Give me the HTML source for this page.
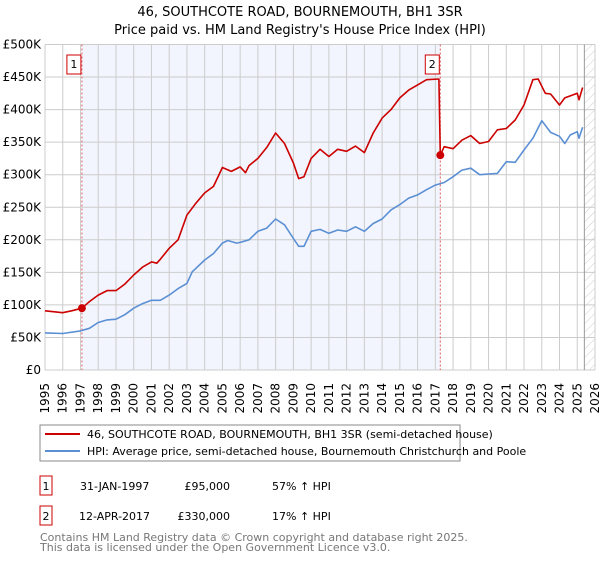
<!DOCTYPE html>
<html><head><meta charset="utf-8"><style>
body{margin:0;background:#fff;font-family:"DejaVu Sans","Liberation Sans",sans-serif;}
svg text{font-family:"DejaVu Sans","Liberation Sans",sans-serif;}
</style></head><body>
<svg id="c" width="600" height="560" xmlns="http://www.w3.org/2000/svg">
<defs><pattern id="hatch" width="6" height="6" patternUnits="userSpaceOnUse" patternTransform="rotate(45)"><line x1="0" y1="0" x2="0" y2="6" stroke="#ccc" stroke-width="1"/></pattern></defs>
<text x="300" y="16" text-anchor="middle" font-size="13">46, SOUTHCOTE ROAD, BOURNEMOUTH, BH1 3SR</text>
<text x="300" y="34" text-anchor="middle" font-size="13">Price paid vs. HM Land Registry's House Price Index (HPI)</text>
<g id="plot"></g>
<rect x="40" y="425" width="420" height="36" fill="#fff" stroke="#888"/>
<line x1="45" y1="434" x2="80" y2="434" stroke="#cc0000" stroke-width="2"/>
<text x="87" y="438" font-size="11">46, SOUTHCOTE ROAD, BOURNEMOUTH, BH1 3SR (semi-detached house)</text>
<line x1="45" y1="451" x2="80" y2="451" stroke="#5b8fd4" stroke-width="2"/>
<text x="87" y="455" font-size="11">HPI: Average price, semi-detached house, Bournemouth Christchurch and Poole</text>
<rect x="40" y="476" width="12" height="19" fill="#fff" stroke="#cc0000"/>
<text x="46" y="490" font-size="11" text-anchor="middle">1</text>
<text x="80" y="490" font-size="11">31-JAN-1997</text>
<text x="230" y="490" font-size="11" text-anchor="end">£95,000</text>
<text x="272" y="490" font-size="11">57% ↑ HPI</text>
<rect x="40" y="506" width="12" height="19" fill="#fff" stroke="#cc0000"/>
<text x="46" y="520" font-size="11" text-anchor="middle">2</text>
<text x="79" y="520" font-size="11">12-APR-2017</text>
<text x="230" y="520" font-size="11" text-anchor="end">£330,000</text>
<text x="272" y="520" font-size="11">17% ↑ HPI</text>
<text x="40" y="541" font-size="11" fill="#777">Contains HM Land Registry data © Crown copyright and database right 2025.</text>
<text x="40" y="551" font-size="11" fill="#777">This data is licensed under the Open Government Licence v3.0.</text>
</svg>
<script>
const yTicks=[0,50,100,150,200,250,300,350,400,450,500];
const yTickLabels=["£0","£50K","£100K","£150K","£200K","£250K","£300K","£350K","£400K","£450K","£500K"];
const xYears=[1995,1996,1997,1998,1999,2000,2001,2002,2003,2004,2005,2006,2007,2008,2009,2010,2011,2012,2013,2014,2015,2016,2017,2018,2019,2020,2021,2022,2023,2024,2025,2026];
const hpiT=[1995,1996,1997,1997.5,1998,1998.5,1999,1999.5,2000,2000.5,2001,2001.5,2002,2002.5,2003,2003.3,2003.5,2004,2004.5,2005,2005.3,2005.8,2006,2006.5,2007,2007.5,2008,2008.5,2009,2009.3,2009.6,2010,2010.5,2011,2011.5,2012,2012.5,2013,2013.5,2014,2014.5,2015,2015.5,2016,2016.5,2017,2017.5,2018,2018.5,2019,2019.5,2020,2020.5,2021,2021.5,2022,2022.5,2023,2023.5,2024,2024.3,2024.6,2025,2025.1,2025.3];
const hpiV=[57,56,60,64,73,77,78,85,95,102,107,107,115,125,133,151,156,169,179,195,199,195,196,200,213,218,232,223,202,190,190,213,216,210,215,213,220,213,225,232,246,254,264,269,277,284,288,297,307,310,300,301,302,320,319,338,356,383,365,359,348,361,366,356,373];
const propT=[1995,1996,1996.5,1997.08,1997.5,1998,1998.5,1999,1999.5,2000,2000.5,2001,2001.3,2001.5,2002,2002.5,2003,2003.5,2004,2004.5,2005,2005.5,2006,2006.3,2006.5,2007,2007.5,2008,2008.5,2009,2009.3,2009.6,2010,2010.5,2011,2011.5,2012,2012.5,2013,2013.5,2014,2014.5,2015,2015.5,2016,2016.5,2017.2,2017.28,2017.5,2018,2018.5,2019,2019.5,2020,2020.5,2021,2021.5,2022,2022.5,2022.8,2023.2,2023.5,2024,2024.3,2025,2025.1,2025.3];
const propV=[91,88,91,95,105,115,122,122,132,146,158,166,164,170,187,200,238,256,272,282,311,305,312,303,314,325,342,364,348,318,294,297,325,339,328,339,336,344,334,364,387,400,418,430,438,446,447,330,343,340,353,360,348,351,369,371,384,407,446,447,425,424,407,418,425,415,434];
const saleT=[1997.08,2017.28];
const saleV=[95,330];
const saleLabels=["1","2"];
const X0=45,X1=595,Y0=370,Y1=44.5;
const xs=t=>X0+(t-1995)/(2026-1995)*(X1-X0);
const ys=v=>Y0-v/500*(Y0-Y1);
const NS="http://www.w3.org/2000/svg";
const g=document.getElementById('plot');
function mk(tag,attrs,parent){const e=document.createElementNS(NS,tag);for(const k in attrs)e.setAttribute(k,attrs[k]);(parent||g).appendChild(e);return e;}
let r=mk('rect',{x:xs(saleT[0]),y:Y1,width:xs(saleT[1])-xs(saleT[0]),height:Y0-Y1,fill:'#f2f5fd'});


let h=mk('rect',{x:xs(2025.4),y:Y1,width:X1-xs(2025.4),height:Y0-Y1,fill:'url(#hatch)'});


yTicks.forEach((v,i)=>{
 let l=mk('line',{x1:X0,x2:X1,y1:ys(v),y2:ys(v),stroke:'#ccc'});
 
 
 let t=mk('text',{x:X0-4,y:ys(v)+4,'text-anchor':'end','font-size':'12'});
 t.textContent=yTickLabels[i];
 
 
});
xYears.forEach(y=>{
 let l=mk('line',{x1:xs(y),x2:xs(y),y1:Y1,y2:Y0,stroke:'#ccc'});
 
 
 let t=mk('text',{x:0,y:0,'font-size':'12','text-anchor':'end',transform:`translate(${xs(y)+4},${Y0+13}) rotate(-90)`});
 t.textContent=y;
 
 
});
let vl=mk('line',{x1:xs(2025.4),x2:xs(2025.4),y1:Y1,y2:Y0,stroke:'#999'});


saleT.forEach((t,i)=>{
 let l=mk('line',{x1:xs(t),x2:xs(t),y1:Y1,y2:Y0,stroke:'#e06060','stroke-dasharray':'2,2'});
 
 
});
function path(T,V,col,name){
 let d=T.map((t,i)=>(i?'L':'M')+xs(t).toFixed(1)+','+ys(V[i]).toFixed(1)).join('');
 let p=mk('path',{d:d,fill:'none',stroke:col,'stroke-width':'1.6','stroke-linejoin':'round'});
 
 
}
path(hpiT,hpiV,'#5b8fd4','hpi-line');
path(propT,propV,'#cc0000','property-line');
saleT.forEach((t,i)=>{
 let c=mk('circle',{cx:xs(t),cy:ys(saleV[i]),r:4,fill:'#cc0000'});
 
 
 let b=mk('rect',{x:xs(t)-15,y:55,width:14,height:19,fill:'#fff',stroke:'#cc0000'});
 
 
 let tx=mk('text',{x:xs(t)-8,y:68,'text-anchor':'middle','font-size':'11'});
 tx.textContent=saleLabels[i];
 
 
});
</script>
</body></html>
